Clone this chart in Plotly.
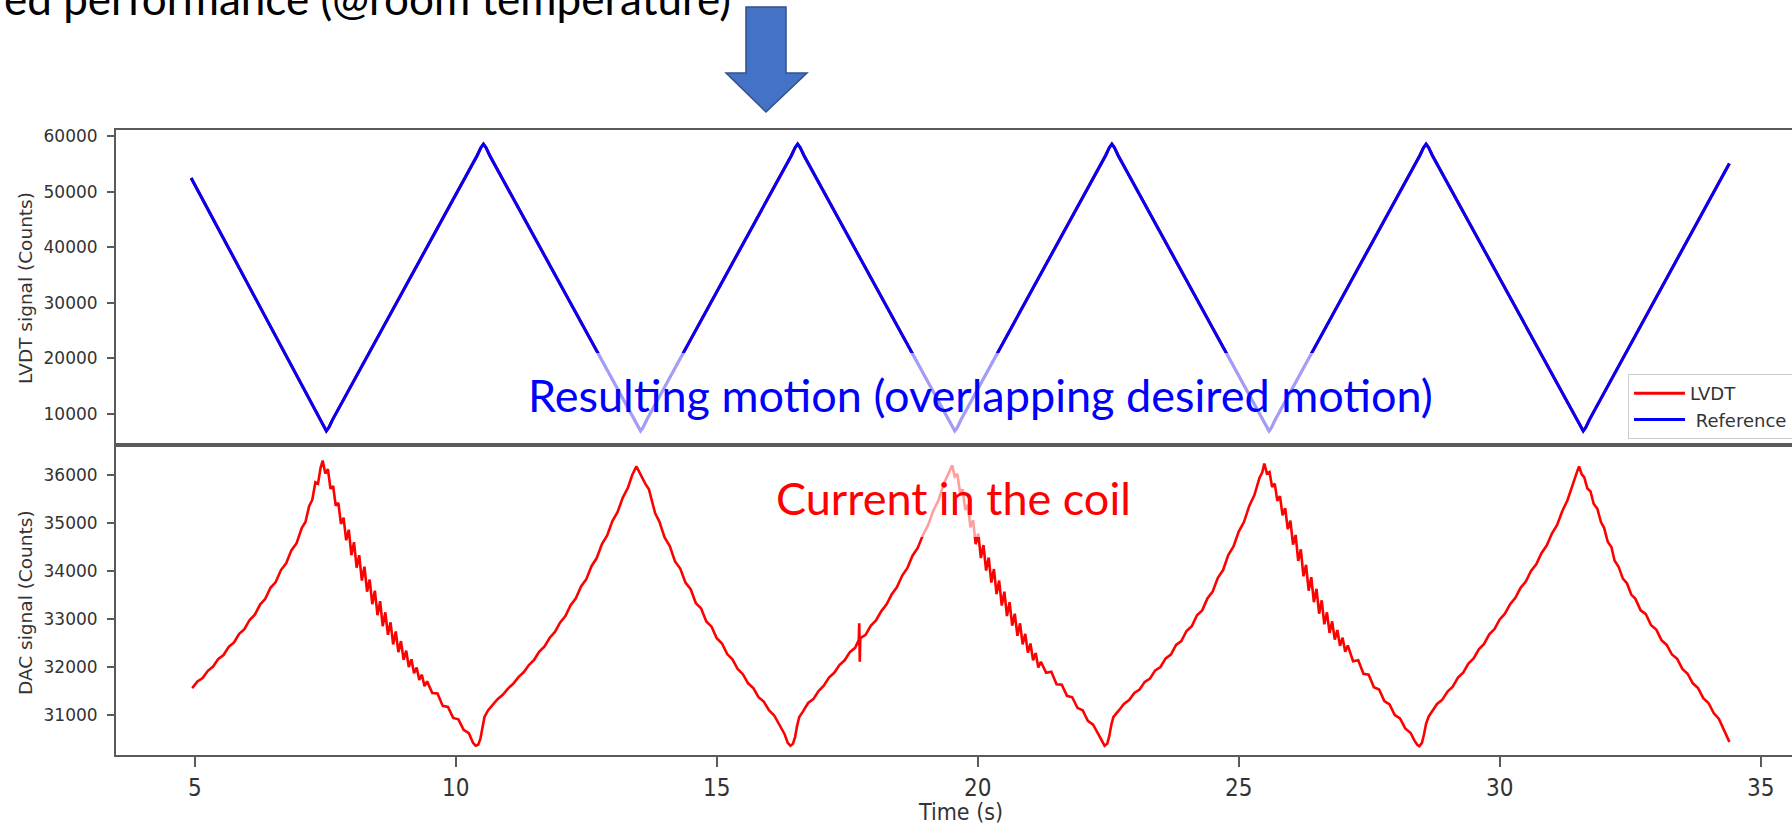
import plotly.graph_objects as go

W, H = 1792, 828

# ---------------------------------------------------------------- data
# Reference position command (triangle wave, rounded at the turning points)
ref_time = [4.93,
            7.40, 7.47, 7.52, 7.57, 7.64,
            10.41, 10.48, 10.53, 10.58, 10.65,
            13.42, 13.49, 13.54, 13.59, 13.66,
            16.43, 16.50, 16.55, 16.60, 16.67,
            19.44, 19.51, 19.56, 19.61, 19.68,
            22.45, 22.52, 22.57, 22.62, 22.69,
            25.46, 25.53, 25.58, 25.63, 25.70,
            28.47, 28.54, 28.59, 28.64, 28.71,
            31.48, 31.55, 31.60, 31.65, 31.72,
            34.40]
ref_counts = [52450,
              9000, 7600, 6940, 7600, 9000,
              56500, 57900, 58560, 57900, 56500,
              9000, 7600, 6940, 7600, 9000,
              56500, 57900, 58560, 57900, 56500,
              9000, 7600, 6940, 7600, 9000,
              56500, 57900, 58560, 57900, 56500,
              9000, 7600, 6940, 7600, 9000,
              56500, 57900, 58560, 57900, 56500,
              9000, 7600, 6940, 7600, 9000,
              55050]

# Measured LVDT position follows the reference on top of it
lvdt_time = list(ref_time)
lvdt_counts = list(ref_counts)

# DAC drive (coil current), one list of (time, counts) per half cycle
dac_rise_0 = [(4.95, 31560), (5.05, 31700), (5.15, 31770), (5.25, 31920), (5.35, 32010),
              (5.45, 32170), (5.55, 32250), (5.65, 32420), (5.75, 32510), (5.85, 32690),
              (5.95, 32790), (6.05, 32980), (6.15, 33090), (6.25, 33300), (6.35, 33420),
              (6.45, 33650), (6.55, 33770), (6.65, 34020), (6.75, 34160), (6.85, 34430),
              (6.95, 34580), (7.05, 34900), (7.12, 35020), (7.19, 35350), (7.25, 35480),
              (7.31, 35850), (7.36, 35820), (7.41, 36150), (7.45, 36300)]

dac_fall_1 = [(7.50, 36030), (7.55, 36120), (7.60, 35710), (7.65, 35770), (7.70, 35360),
              (7.75, 35420), (7.80, 34980), (7.85, 35110), (7.90, 34640), (7.95, 34860),
              (8.00, 34330), (8.05, 34600), (8.10, 34070), (8.15, 34330), (8.20, 33800),
              (8.25, 34090), (8.30, 33570), (8.35, 33820), (8.40, 33310), (8.45, 33590),
              (8.50, 33080), (8.55, 33370), (8.60, 32850), (8.65, 33140), (8.70, 32670),
              (8.75, 32930), (8.80, 32470), (8.85, 32740), (8.90, 32310), (8.95, 32540),
              (9.00, 32150), (9.05, 32340), (9.10, 32000), (9.15, 32160), (9.20, 31870),
              (9.25, 31990), (9.30, 31730), (9.35, 31840), (9.40, 31600), (9.45, 31700),
              (9.55, 31460), (9.65, 31450), (9.75, 31190), (9.85, 31170), (9.95, 30940),
              (10.05, 30910), (10.15, 30690), (10.25, 30620), (10.33, 30420), (10.38, 30360)]

dac_rise_1 = [(10.43, 30380), (10.47, 30500), (10.51, 30750), (10.55, 30960), (10.62, 31100),
              (10.70, 31210), (10.80, 31330), (10.90, 31420), (11.00, 31550), (11.10, 31650),
              (11.20, 31790), (11.30, 31890), (11.40, 32040), (11.50, 32150), (11.60, 32320),
              (11.70, 32430), (11.80, 32610), (11.90, 32730), (12.00, 32930), (12.10, 33060),
              (12.20, 33290), (12.30, 33430), (12.40, 33680), (12.50, 33830), (12.60, 34100),
              (12.70, 34270), (12.80, 34560), (12.90, 34740), (13.00, 35040), (13.10, 35230),
              (13.20, 35530), (13.30, 35740), (13.38, 36000), (13.46, 36180)]

dac_fall_2 = [(13.52, 36050), (13.58, 35950), (13.63, 35820), (13.70, 35700), (13.76, 35450),
              (13.82, 35200), (13.90, 35030), (14.00, 34700), (14.10, 34520), (14.20, 34200),
              (14.30, 34050), (14.40, 33760), (14.50, 33620), (14.60, 33330), (14.70, 33220),
              (14.80, 32950), (14.90, 32840), (15.00, 32600), (15.10, 32490), (15.20, 32270),
              (15.30, 32160), (15.40, 31960), (15.50, 31850), (15.60, 31660), (15.70, 31560),
              (15.80, 31370), (15.90, 31280), (16.00, 31100), (16.10, 30990), (16.20, 30780),
              (16.30, 30600), (16.36, 30420), (16.41, 30360)]

dac_rise_2 = [(16.46, 30400), (16.50, 30540), (16.54, 30780), (16.58, 30960), (16.65, 31070),
              (16.75, 31250), (16.85, 31330), (16.95, 31500), (17.05, 31610), (17.15, 31780),
              (17.25, 31880), (17.35, 32040), (17.45, 32140), (17.55, 32310), (17.65, 32400),
              (17.72, 32560), (17.73, 32910), (17.74, 32110), (17.75, 32600), (17.85, 32670),
              (17.95, 32860), (18.05, 32970), (18.15, 33160), (18.25, 33300), (18.35, 33510),
              (18.45, 33660), (18.55, 33900), (18.65, 34060), (18.75, 34320), (18.85, 34480),
              (18.95, 34750), (19.05, 34960), (19.15, 35260), (19.25, 35480), (19.35, 35820),
              (19.43, 36030), (19.51, 36200)]

dac_fall_3 = [(19.56, 35970), (19.61, 36020), (19.66, 35630), (19.71, 35700), (19.76, 35270),
              (19.81, 35380), (19.86, 34910), (19.91, 35060), (19.96, 34560), (20.01, 34780),
              (20.06, 34270), (20.11, 34540), (20.16, 34010), (20.21, 34280), (20.26, 33760),
              (20.31, 34040), (20.36, 33520), (20.41, 33800), (20.46, 33280), (20.51, 33570),
              (20.56, 33060), (20.61, 33350), (20.66, 32860), (20.71, 33110), (20.76, 32650),
              (20.81, 32910), (20.86, 32470), (20.91, 32690), (20.96, 32300), (21.01, 32490),
              (21.06, 32140), (21.11, 32290), (21.16, 31990), (21.21, 32110), (21.31, 31880),
              (21.41, 31900), (21.51, 31640), (21.61, 31630), (21.71, 31400), (21.81, 31370),
              (21.91, 31150), (22.01, 31100), (22.11, 30880), (22.21, 30800), (22.31, 30600),
              (22.38, 30440), (22.43, 30360)]

dac_rise_3 = [(22.48, 30400), (22.52, 30560), (22.56, 30800), (22.60, 30960), (22.70, 31090),
              (22.80, 31230), (22.90, 31310), (23.00, 31460), (23.10, 31530), (23.20, 31690),
              (23.30, 31760), (23.40, 31930), (23.50, 32000), (23.60, 32180), (23.70, 32260),
              (23.80, 32460), (23.90, 32540), (24.00, 32750), (24.10, 32850), (24.20, 33080),
              (24.30, 33180), (24.40, 33430), (24.50, 33570), (24.60, 33860), (24.70, 34020),
              (24.80, 34330), (24.90, 34510), (25.00, 34820), (25.10, 35020), (25.20, 35350),
              (25.30, 35580), (25.40, 35950), (25.45, 36050), (25.49, 36240)]

dac_fall_4 = [(25.54, 36030), (25.59, 36060), (25.64, 35750), (25.69, 35820), (25.74, 35460),
              (25.79, 35560), (25.84, 35160), (25.89, 35310), (25.94, 34870), (25.99, 35050),
              (26.04, 34550), (26.09, 34750), (26.14, 34210), (26.19, 34450), (26.24, 33890),
              (26.29, 34130), (26.34, 33590), (26.39, 33870), (26.44, 33350), (26.49, 33630),
              (26.54, 33110), (26.59, 33390), (26.64, 32890), (26.69, 33140), (26.74, 32710),
              (26.79, 32950), (26.84, 32570), (26.89, 32770), (26.94, 32440), (26.99, 32610),
              (27.04, 32320), (27.09, 32450), (27.19, 32120), (27.29, 32140), (27.39, 31860),
              (27.49, 31840), (27.59, 31580), (27.69, 31530), (27.79, 31290), (27.89, 31220),
              (27.99, 31000), (28.09, 30930), (28.19, 30720), (28.29, 30630), (28.37, 30460),
              (28.42, 30380), (28.46, 30350)]

dac_rise_4 = [(28.51, 30420), (28.55, 30600), (28.59, 30820), (28.64, 30970), (28.70, 31060),
              (28.80, 31230), (28.90, 31320), (29.00, 31490), (29.10, 31590), (29.20, 31780),
              (29.30, 31880), (29.40, 32070), (29.50, 32180), (29.60, 32370), (29.70, 32480),
              (29.80, 32680), (29.90, 32790), (30.00, 32990), (30.10, 33110), (30.20, 33310),
              (30.30, 33440), (30.40, 33650), (30.50, 33780), (30.60, 34000), (30.70, 34140),
              (30.80, 34370), (30.90, 34530), (31.00, 34780), (31.10, 34960), (31.20, 35250),
              (31.30, 35480), (31.40, 35830), (31.47, 36030), (31.52, 36180)]

dac_fall_5 = [(31.57, 36020), (31.62, 35950), (31.68, 35720), (31.74, 35660), (31.80, 35400),
              (31.87, 35300), (31.94, 35020), (32.00, 34900), (32.07, 34610), (32.14, 34500),
              (32.20, 34220), (32.28, 34080), (32.36, 33840), (32.44, 33740), (32.52, 33510),
              (32.60, 33420), (32.70, 33180), (32.80, 33100), (32.90, 32870), (33.00, 32780),
              (33.10, 32560), (33.20, 32460), (33.30, 32260), (33.40, 32170), (33.50, 31960),
              (33.60, 31860), (33.70, 31660), (33.80, 31560), (33.90, 31350), (34.00, 31250),
              (34.10, 31040), (34.20, 30920), (34.30, 30680), (34.36, 30560), (34.40, 30440)]

dac_segments = [dac_rise_0, dac_fall_1, dac_rise_1, dac_fall_2, dac_rise_2,
                dac_fall_3, dac_rise_3, dac_fall_4, dac_rise_4, dac_fall_5]
dac_time = [t for seg in dac_segments for t, _ in seg]
dac_counts = [c for seg in dac_segments for _, c in seg]

lvdt_ticks = [10000, 20000, 30000, 40000, 50000, 60000]
dac_ticks = [31000, 32000, 33000, 34000, 35000, 36000]
time_ticks = [5, 10, 15, 20, 25, 30, 35]

# ---------------------------------------------------------------- helpers
def px(x):
    return x / W


def py(y):
    return 1 - y / H


AXIS_GREY = "#5a5a5a"
TEXT_GREY = "#333333"
SLIDE_FONT = "Lato, Carlito, Calibri, sans-serif"
NARROW_FONT = "Liberation Sans Narrow, DejaVu Sans Condensed, DejaVu Sans"

time_range = [3.49, 35.60]

fig = go.Figure()
fig.add_trace(go.Scatter(x=lvdt_time, y=lvdt_counts, mode="lines", name="LVDT",
                         line=dict(color="#ff0000", width=3), xaxis="x", yaxis="y"))
fig.add_trace(go.Scatter(x=ref_time, y=ref_counts, mode="lines", name="\u00a0Reference\u00a0\u00a0",
                         line=dict(color="#0000ff", width=3), xaxis="x", yaxis="y"))
fig.add_trace(go.Scatter(x=dac_time, y=dac_counts, mode="lines", showlegend=False,
                         line=dict(color="#ff0000", width=2.6), xaxis="x2", yaxis="y2"))

common = dict(showgrid=False, zeroline=False, showline=True, linecolor=AXIS_GREY,
              linewidth=2, tickcolor=AXIS_GREY, tickwidth=1.5)
ytick_font = dict(family="DejaVu Sans", size=17, color=TEXT_GREY)

fig.update_layout(
    width=W, height=H, autosize=False,
    margin=dict(l=0, r=0, t=0, b=0, autoexpand=False),
    paper_bgcolor="white", plot_bgcolor="white",
    xaxis=dict(domain=[px(116), 1], range=time_range, anchor="y", mirror=True,
               showticklabels=False, ticks="", **common),
    yaxis=dict(domain=[py(445), py(130)], range=[4424, 61079], anchor="x",
               tickvals=lvdt_ticks, tickformat="d", ticks="outside", ticklen=7,
               ticklabelstandoff=6, tickfont=ytick_font, **common),
    xaxis2=dict(domain=[px(116), 1], range=time_range, anchor="y2", mirror=True,
                tickvals=time_ticks, ticks="outside", ticklen=10, ticklabelstandoff=0,
                tickfont=dict(family=NARROW_FONT, size=24, color=TEXT_GREY), **common),
    yaxis2=dict(domain=[py(755), py(445)], range=[30167, 36625], anchor="x2",
                tickvals=dac_ticks, tickformat="d", ticks="outside", ticklen=7,
                ticklabelstandoff=6, tickfont=ytick_font, **common),
    legend=dict(x=px(1628), y=py(374), xanchor="left", yanchor="top",
                bgcolor="rgba(255,255,255,0.85)", bordercolor="#cccccc", borderwidth=1,
                font=dict(family="DejaVu Sans", size=18, color=TEXT_GREY),
                tracegroupgap=0, itemwidth=51),
    showlegend=True,
)

# Semi-transparent text boxes laid over the traces
for x0, y0, x1, y1 in [(515, 353, 1445, 442), (768, 455, 1138, 537)]:
    fig.add_shape(type="rect", xref="paper", yref="paper",
                  x0=px(x0), x1=px(x1), y0=py(y1), y1=py(y0),
                  fillcolor="rgba(255,255,255,0.62)", line=dict(width=0), layer="above")

# Down arrow pointing at the chart
arrow_pts = [(746, 7), (786, 7), (786, 73), (807, 73), (766, 112), (726, 73), (746, 73)]
arrow_path = "M " + " L ".join(f"{px(x):.5f},{py(y):.5f}" for x, y in arrow_pts) + " Z"
fig.add_shape(type="path", xref="paper", yref="paper", path=arrow_path,
              fillcolor="#4472c4", line=dict(color="#2f528f", width=1.5), layer="above")

annotations = [
    dict(text="ed performance (@room temperature)", x=px(733), y=py(-2),
         xanchor="right", yanchor="middle",
         font=dict(family=SLIDE_FONT, size=44, color="#000000")),
    dict(text="Resulting motion (overlapping desired motion)", x=px(980), y=py(395),
         xanchor="center", yanchor="middle",
         font=dict(family=SLIDE_FONT, size=45, color="#0000ff")),
    dict(text="Current in the coil", x=px(953), y=py(498),
         xanchor="center", yanchor="middle",
         font=dict(family=SLIDE_FONT, size=45, color="#ff0000")),
    dict(text="LVDT signal (Counts)", x=px(25), y=py(288), textangle=-90,
         xanchor="center", yanchor="middle",
         font=dict(family="DejaVu Sans", size=18.5, color=TEXT_GREY)),
    dict(text="DAC signal (Counts)", x=px(25), y=py(603), textangle=-90,
         xanchor="center", yanchor="middle",
         font=dict(family="DejaVu Sans", size=18.5, color=TEXT_GREY)),
    dict(text="Time (s)", x=px(960), y=py(812), xanchor="center", yanchor="middle",
         font=dict(family=NARROW_FONT, size=23, color=TEXT_GREY)),
]
for a in annotations:
    fig.add_annotation(xref="paper", yref="paper", showarrow=False, **a)

fig.write_html("out.html")
